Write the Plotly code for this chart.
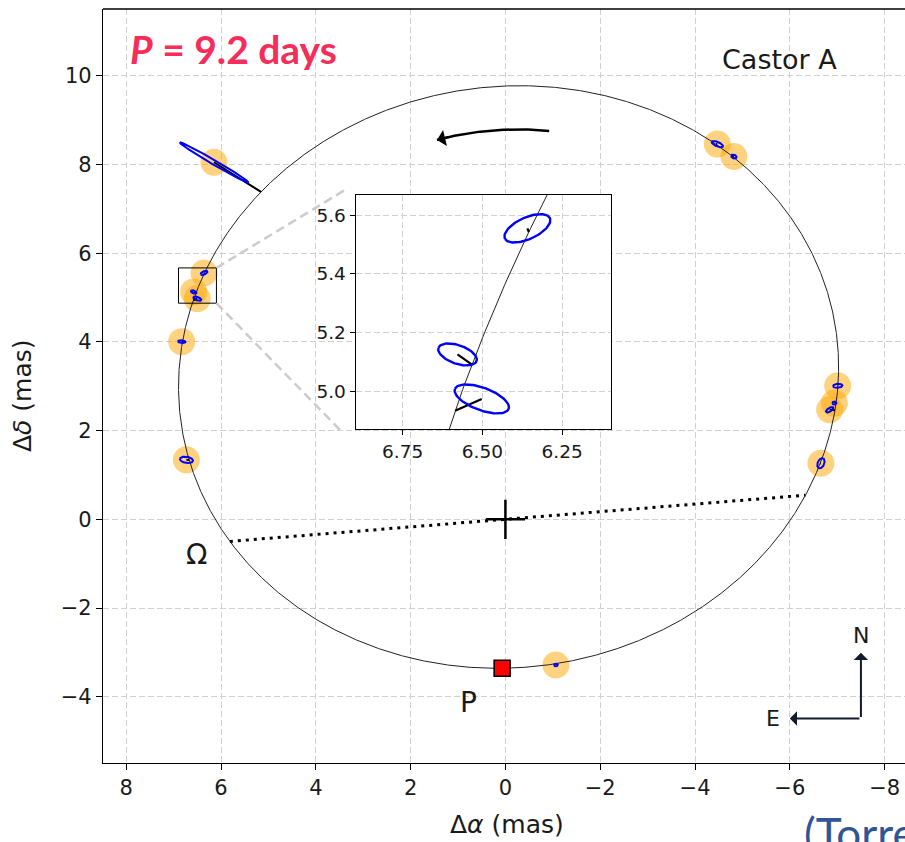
import numpy as np
import plotly.graph_objects as go

# ---------------- Relative orbit of Castor Aa-Ab (angles in mas / deg) ----------------
PERIOD_DAYS = 9.2
SEMI_MAJOR = 7.99      # mas
ECC = 0.4885
INCL = 34.85           # deg
ARG_PERI = 85.0        # omega, deg
NODE_PA = 94.9         # Omega, deg

# ---------------- Interferometric relative astrometry ----------------
obs_dra = [6.15, -4.47, -4.82, 6.359, 6.578, 6.502, 6.83, 6.73, -7.01, -6.94, -6.84, -6.656, -1.065]
obs_ddec = [8.05, 8.46, 8.18, 5.555, 5.127, 4.976, 4.005, 1.34, 3.01, 2.62, 2.47, 1.263, -3.285]
err_major = [0.85, 0.13, 0.06, 0.0786, 0.0639, 0.0908, 0.08, 0.14, 0.10, 0.045, 0.09, 0.12, 0.04]
err_minor = [0.05, 0.05, 0.04, 0.0363, 0.0312, 0.0377, 0.03, 0.07, 0.045, 0.035, 0.04, 0.07, 0.03]
err_pa = [58, 65, 65, 117, 68.5, 67.5, 85, 80, 95, 90, 125, 160, 90]
obs_phase = [0.6974, 0.3473, 0.3328, 0.7621, 0.7755, 0.7800, 0.8054, 0.8685,
             0.1651, 0.1561, 0.1524, 0.1258, 0.0134]

# zoomed window (mas)
inset_dra = [6.897, 6.097]
inset_ddec = [4.873, 5.668]

main_xticks = [8, 6, 4, 2, 0, -2, -4, -6, -8]
main_yticks = [-4, -2, 0, 2, 4, 6, 8, 10]
inset_xticks = [6.75, 6.50, 6.25]
inset_yticks = [5.0, 5.2, 5.4, 5.6]

STAR_NAME = "Castor A"

# ---------------- orbit model ----------------
w, W, inc = np.radians([ARG_PERI, NODE_PA, INCL])
a = SEMI_MAJOR
TI_A = a * (np.cos(w) * np.cos(W) - np.sin(w) * np.sin(W) * np.cos(inc))
TI_B = a * (np.cos(w) * np.sin(W) + np.sin(w) * np.cos(W) * np.cos(inc))
TI_F = a * (-np.sin(w) * np.cos(W) - np.cos(w) * np.sin(W) * np.cos(inc))
TI_G = a * (-np.sin(w) * np.sin(W) + np.cos(w) * np.cos(W) * np.cos(inc))


def sky_from_E(E):
    X = np.cos(E) - ECC
    Y = np.sqrt(1 - ECC ** 2) * np.sin(E)
    return TI_B * X + TI_G * Y, TI_A * X + TI_F * Y


def sky_from_nu(nu):
    r = (1 - ECC ** 2) / (1 + ECC * np.cos(nu))
    X, Y = r * np.cos(nu), r * np.sin(nu)
    return TI_B * X + TI_G * Y, TI_A * X + TI_F * Y


def ecc_anomaly(phase):
    M = 2 * np.pi * np.asarray(phase, dtype=float)
    E = M + ECC * np.sin(M)
    for _ in range(60):
        E = E - (E - ECC * np.sin(E) - M) / (1 - ECC * np.cos(E))
    return E


def ellipse_xy(x0, y0, smaj, smin, pa_deg, n=90):
    t = np.linspace(0, 2 * np.pi, n)
    p = np.radians(pa_deg)
    ux, uy = np.sin(p), np.cos(p)       # major axis (E of N)
    vx, vy = np.cos(p), -np.sin(p)
    return (x0 + smaj * np.cos(t) * ux + smin * np.sin(t) * vx,
            y0 + smaj * np.cos(t) * uy + smin * np.sin(t) * vy)


E_curve = np.linspace(0, 2 * np.pi, 2001)
orb_x, orb_y = sky_from_E(E_curve)
center_x, center_y = -ECC * TI_B, -ECC * TI_A

peri_x, peri_y = sky_from_E(np.array([0.0]))
node_x, node_y = sky_from_nu(np.array([-w, np.pi - w]))

pred_x, pred_y = sky_from_E(ecc_anomaly(obs_phase))

ell_x, ell_y = [], []
for x0, y0, sa, sb, pa in zip(obs_dra, obs_ddec, err_major, err_minor, err_pa):
    ex, ey = ellipse_xy(x0, y0, sa, sb, pa)
    ell_x += list(ex) + [None]
    ell_y += list(ey) + [None]

res_x, res_y = [], []
for ox, oy, px, py in zip(obs_dra, obs_ddec, pred_x, pred_y):
    res_x += [ox, px, None]
    res_y += [oy, py, None]

# direction-of-motion arrow: arc of the orbit shrunk about its centre
ARROW_SCALE = 0.85
arc_E = np.radians(np.linspace(172.8, 195.9, 60))
ax_, ay_ = sky_from_E(arc_E)
arc_x = center_x + ARROW_SCALE * (ax_ - center_x)
arc_y = center_y + ARROW_SCALE * (ay_ - center_y)

GRID = "#d0d0d0"
BLUE = "#0000ff"
ORANGE = "rgba(255,165,0,0.5)"
TXT = "#1a1a1a"


def ticktext(vals, fmt):
    return [fmt.format(v).replace("-", "\u2212") for v in vals]


fig = go.Figure()

# ---------------- main panel ----------------
fig.add_trace(go.Scatter(x=obs_dra, y=obs_ddec, mode="markers",
                         marker=dict(size=27, color=ORANGE, line=dict(width=0)),
                         hoverinfo="skip"))
fig.add_trace(go.Scatter(x=node_x, y=node_y, mode="lines",
                         line=dict(color="black", width=3, dash="3px,5px"), hoverinfo="skip"))
fig.add_trace(go.Scatter(x=orb_x, y=orb_y, mode="lines",
                         line=dict(color="#222222", width=1), hoverinfo="skip"))
fig.add_trace(go.Scatter(x=res_x, y=res_y, mode="lines",
                         line=dict(color="black", width=2), hoverinfo="skip"))
fig.add_trace(go.Scatter(x=ell_x, y=ell_y, mode="lines",
                         line=dict(color=BLUE, width=2), hoverinfo="skip"))
fig.add_trace(go.Scatter(x=[0], y=[0], mode="markers",
                         marker=dict(symbol="cross-thin", size=28,
                                     line=dict(color="black", width=2.5)),
                         hoverinfo="skip"))
fig.add_trace(go.Scatter(x=peri_x, y=peri_y, mode="markers",
                         marker=dict(symbol="square", size=16, color="red",
                                     line=dict(color="black", width=1.5)),
                         hoverinfo="skip"))
fig.add_trace(go.Scatter(x=arc_x, y=arc_y, mode="lines",
                         line=dict(color="black", width=2.5), hoverinfo="skip"))

# ---------------- zoomed panel ----------------
fig.add_trace(go.Scatter(x=orb_x, y=orb_y, mode="lines", xaxis="x2", yaxis="y2",
                         line=dict(color="#222222", width=1), hoverinfo="skip"))
fig.add_trace(go.Scatter(x=res_x, y=res_y, mode="lines", xaxis="x2", yaxis="y2",
                         line=dict(color="black", width=2.2), hoverinfo="skip"))
fig.add_trace(go.Scatter(x=ell_x, y=ell_y, mode="lines", xaxis="x2", yaxis="y2",
                         line=dict(color=BLUE, width=2.4), hoverinfo="skip"))

annotations = [
    # motion arrow head
    dict(x=arc_x[-1], y=arc_y[-1], ax=arc_x[-8], ay=arc_y[-8], xref="x", yref="y",
         axref="x", ayref="y", text="", showarrow=True, arrowhead=1,
         arrowsize=1.1, arrowwidth=2.5, arrowcolor="black"),
    # compass
    dict(x=-7.5, y=-3.01, ax=-7.5, ay=-4.49, xref="x", yref="y", axref="x", ayref="y",
         text="", showarrow=True, arrowhead=1, arrowsize=1.2, arrowwidth=2,
         arrowcolor="#111a2e"),
    dict(x=-6.0, y=-4.49, ax=-7.5, ay=-4.49, xref="x", yref="y", axref="x", ayref="y",
         text="", showarrow=True, arrowhead=1, arrowsize=1.2, arrowwidth=2,
         arrowcolor="#111a2e"),
    dict(x=-7.5, y=-2.61, xref="x", yref="y", text="N", showarrow=False,
         xanchor="center", yanchor="middle", font=dict(size=22, color=TXT)),
    dict(x=-5.65, y=-4.49, xref="x", yref="y", text="E", showarrow=False,
         xanchor="center", yanchor="middle", font=dict(size=22, color=TXT)),
    # node and periastron labels
    dict(x=node_x[0], y=node_y[0], xref="x", yref="y", text="\u03a9", showarrow=False,
         xanchor="center", yanchor="middle",
         xshift=-33, yshift=-13, font=dict(size=28, color=TXT)),
    dict(x=peri_x[0], y=peri_y[0], xref="x", yref="y", text="P", showarrow=False,
         xanchor="center", yanchor="middle",
         xshift=-34, yshift=-34, font=dict(size=28, color=TXT)),
    dict(x=0.8435, y=0.9324, xref="paper", yref="paper", text=STAR_NAME,
         xanchor="center", yanchor="middle",
         showarrow=False, font=dict(size=27, color=TXT)),
    dict(x=0.0312, y=0.947, xref="paper", yref="paper", xanchor="left", yanchor="middle",
         text=f"<b><i>P</i> = {PERIOD_DAYS} days</b>", showarrow=False,
         font=dict(family="Lato", size=39, color="#f52d5a")),
    # axis titles
    dict(x=0.5037, y=-0.0822, xref="paper", yref="paper", text="\u0394<i>\u03b1</i> (mas)",
         xanchor="center", yanchor="middle",
         showarrow=False, font=dict(size=25, color=TXT)),
    dict(x=-0.101, y=0.488, xref="paper", yref="paper", text="\u0394<i>\u03b4</i> (mas)",
         xanchor="center", yanchor="middle",
         textangle=-90, showarrow=False, font=dict(size=25, color=TXT)),
    # reference
    dict(x=0.8715, y=-0.056, xref="paper", yref="paper", xanchor="left", yanchor="top",
         text="(Torres et al. 2022)", showarrow=False,
         font=dict(family="Lato", size=44, color="#2f5597")),
]

shapes = [
    dict(type="line", xref="paper", yref="paper", x0=0, x1=1, y0=1, y1=1,
         line=dict(color="black", width=1.3)),
    dict(type="rect", xref="x", yref="y", x0=inset_dra[0], x1=inset_dra[1],
         y0=inset_ddec[0], y1=inset_ddec[1], line=dict(color="black", width=1)),
    dict(type="line", xref="x", yref="y", x0=inset_dra[1], y0=inset_ddec[1],
         x1=3.386, y1=7.425, line=dict(color="#cccccc", width=2.5, dash="9px,5px")),
    dict(type="line", xref="x", yref="y", x0=inset_dra[1], y0=inset_ddec[0],
         x1=3.45, y1=1.97, line=dict(color="#cccccc", width=2.5, dash="9px,5px")),
]

axis_common = dict(showgrid=True, gridcolor=GRID, griddash="6px,3px", gridwidth=1,
                   zeroline=False, showline=True, linecolor="black", linewidth=1.3,
                   ticks="outside", tickcolor="black", tickwidth=1.3)

fig.update_layout(
    width=905, height=842,
    margin=dict(l=103, r=0, t=9, b=79),
    paper_bgcolor="white", plot_bgcolor="white",
    showlegend=False,
    font=dict(family="DejaVu Sans", color=TXT),
    xaxis=dict(axis_common, domain=[0, 1], range=[8.49, -8.43], tickvals=main_xticks,
               ticktext=ticktext(main_xticks, "{:d}"), ticklen=6,
               tickfont=dict(size=21, color=TXT), anchor="y"),
    yaxis=dict(axis_common, domain=[0, 1], range=[-5.495, 11.506], tickvals=main_yticks,
               ticktext=ticktext(main_yticks, "{:d}"), ticklen=6,
               tickfont=dict(size=21, color=TXT), anchor="x"),
    xaxis2=dict(axis_common, domain=[0.3151, 0.6334], range=inset_dra, anchor="y2",
                mirror=True, tickvals=inset_xticks, ticktext=ticktext(inset_xticks, "{:.2f}"),
                ticklen=5, tickfont=dict(size=18.5, color=TXT)),
    yaxis2=dict(axis_common, domain=[0.4426, 0.7533], range=inset_ddec, anchor="x2",
                mirror=True, tickvals=inset_yticks, ticktext=ticktext(inset_yticks, "{:.1f}"),
                ticklen=5, tickfont=dict(size=18.5, color=TXT)),
    annotations=annotations,
    shapes=shapes,
)

fig.write_html("out.html", config=dict(displayModeBar=False))
